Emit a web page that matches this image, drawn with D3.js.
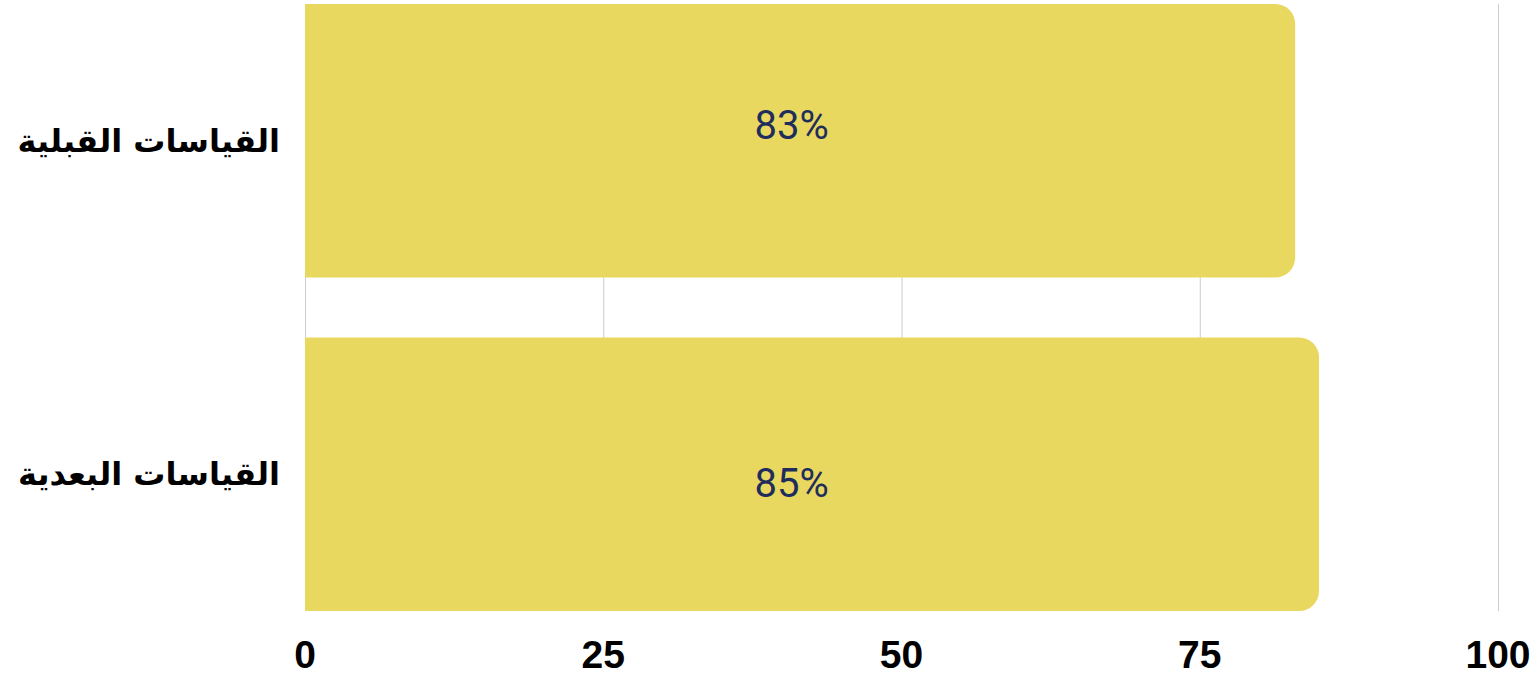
<!DOCTYPE html>
<meta charset="utf-8">
<script src="https://d3js.org/d3.v7.min.js"></script>
<style>
  body { margin: 0; background: #fff; }
</style>
<div id="chart"></div>
<script>

// data
var categories = ["القياسات القبلية", "القياسات البعدية"];
var values = [83, 85];
var tickValues = [0, 25, 50, 75, 100];

var width = 1539, height = 677;
var margin = {top: 4, right: 41, bottom: 66, left: 305};

var svg = d3.select("#chart")
  .append("svg")
    .attr("width", width)
    .attr("height", height);

var x = d3.scaleLinear()
  .domain([0, 100])
  .range([margin.left, width - margin.right]);

var y = d3.scaleBand()
  .domain(categories)
  .range([margin.top, height - margin.bottom])
  .paddingInner(0.18)
  .paddingOuter(0);

// grid lines
svg.append("g")
  .selectAll("line")
  .data(tickValues)
  .enter()
  .append("line")
    .attr("x1", function(d) { return x(d) + 0.5; })
    .attr("x2", function(d) { return x(d) + 0.5; })
    .attr("y1", margin.top)
    .attr("y2", height - margin.bottom)
    .attr("stroke", "#cccccc")
    .attr("stroke-width", 1);

// bar with rounded right corners
function barPath(x0, y0, w, h, r) {
  return "M" + x0 + "," + y0 +
    "H" + (x0 + w - r) +
    "A" + r + "," + r + " 0 0 1 " + (x0 + w) + "," + (y0 + r) +
    "V" + (y0 + h - r) +
    "A" + r + "," + r + " 0 0 1 " + (x0 + w - r) + "," + (y0 + h) +
    "H" + x0 + "Z";
}

var data = categories.map(function(c, i) { return {name: c, value: values[i]}; });

svg.append("g")
  .selectAll("path")
  .data(data)
  .enter()
  .append("path")
    .attr("d", function(d) {
      return barPath(x(0), y(d.name), x(d.value) - x(0), y.bandwidth(), 20);
    })
    .attr("fill", "#e9d85f");

// value labels (sit at the same spot inside both bars)
var labelShift = [-16, 9];
svg.append("g")
  .selectAll("text")
  .data(data)
  .enter()
  .append("text")
    .attr("x", x(40.8))
    .attr("y", function(d, i) { return y(d.name) + y.bandwidth() / 2 + labelShift[i]; })
    .attr("dy", "0.35em")
    .attr("text-anchor", "middle")
    .style("font-family", "Roboto, sans-serif")
    .style("font-size", "40px")
    .style("fill", "#1f2d5c")
    .text(function(d) { return d.value + "%"; });

// category labels
svg.append("g")
  .selectAll("text")
  .data(data)
  .enter()
  .append("text")
    .attr("x", 280)
    .attr("y", function(d) { return y(d.name) + y.bandwidth() / 2; })
    .attr("dy", "0.35em")
    .attr("text-anchor", "end")
    .style("font-family", "'DejaVu Sans', sans-serif")
    .style("font-weight", "bold")
    .style("font-size", "32px")
    .style("fill", "#000")
    .text(function(d) { return d.name; });

// x axis tick labels
svg.append("g")
  .selectAll("text")
  .data(tickValues)
  .enter()
  .append("text")
    .attr("x", function(d) { return x(d); })
    .attr("y", 668)
    .attr("text-anchor", "middle")
    .style("font-family", "'Liberation Sans', Arial, sans-serif")
    .style("font-weight", "bold")
    .style("font-size", "39px")
    .style("fill", "#000")
    .text(function(d) { return d; });

</script>
